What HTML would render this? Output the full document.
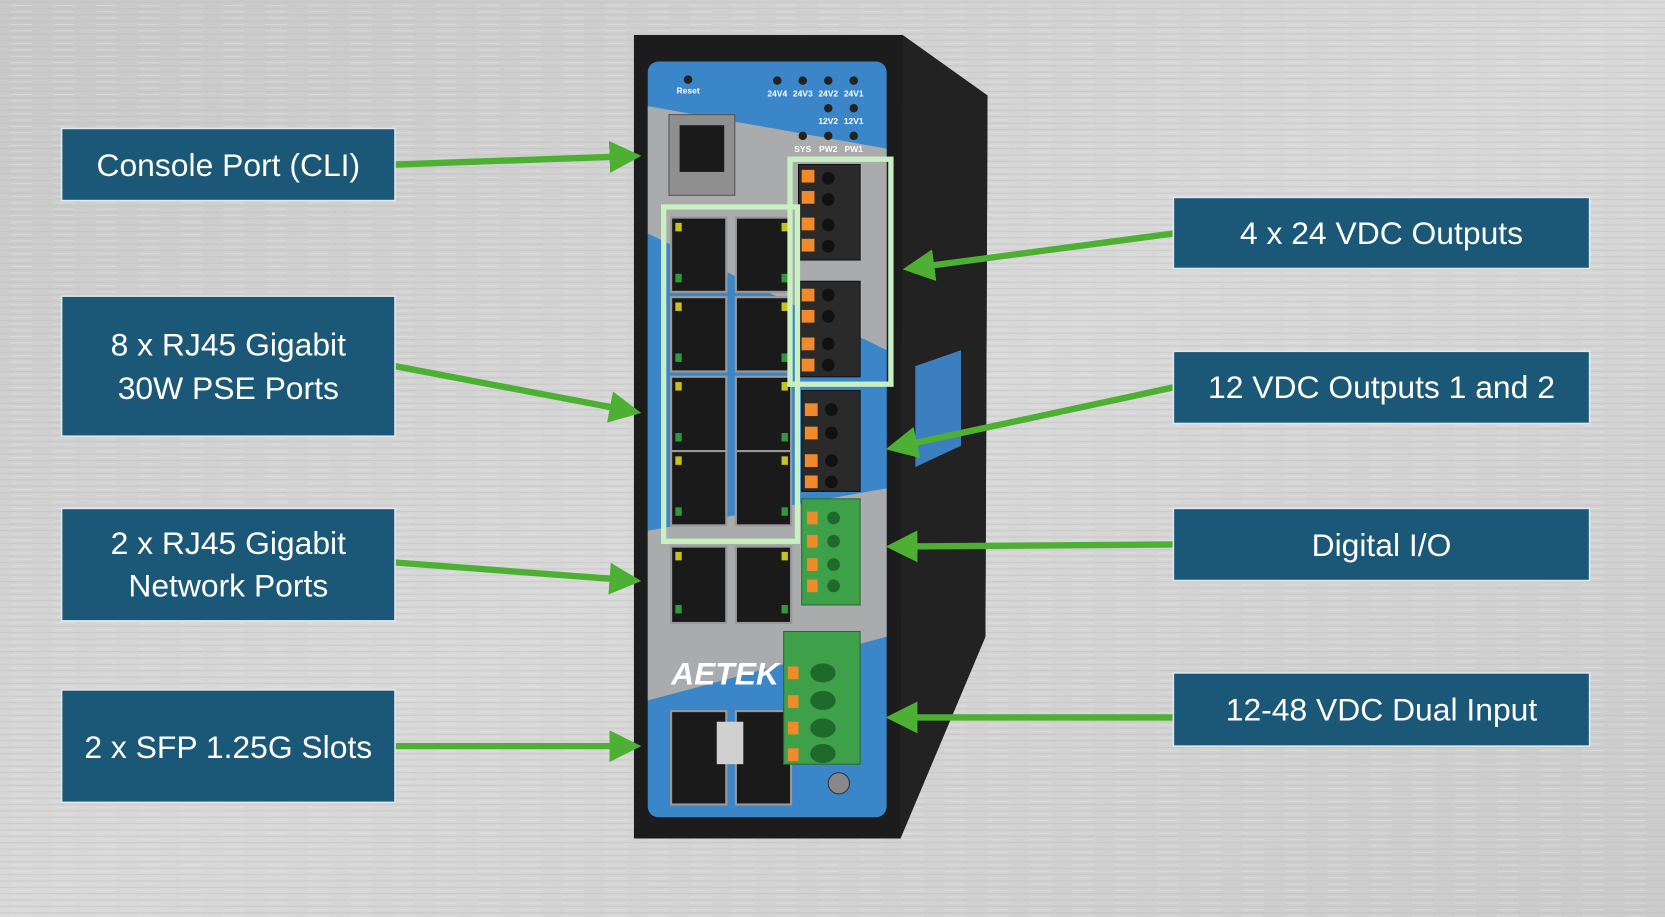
<!DOCTYPE html>
<html><head><meta charset="utf-8"><style>
html,body{margin:0;padding:0;width:1665px;height:917px;overflow:hidden;background:#cfcfcf}
svg{display:block}
text{font-family:"Liberation Sans",sans-serif;fill:#fff}
</style></head><body>
<svg width="1665" height="917" viewBox="0 0 1568 864" preserveAspectRatio="none">
<defs>
<linearGradient id="bg" x1="0" y1="0" x2="1" y2="1">
<stop offset="0" stop-color="#c8c8c8"/><stop offset="0.5" stop-color="#d9d9d9"/><stop offset="1" stop-color="#cbcbcb"/></linearGradient>
<pattern id="brush" width="40" height="6" patternUnits="userSpaceOnUse">
<line x1="0" y1="2" x2="40" y2="2" stroke="#bdbdbd" stroke-width="0.8" opacity="0.6"/>
<line x1="10" y1="5" x2="30" y2="5" stroke="#e6e6e6" stroke-width="0.8" opacity="0.6"/></pattern>
<marker id="ah" markerWidth="5" markerHeight="5" refX="4" refY="2.5" orient="auto" markerUnits="strokeWidth"><path d="M0,0 L5,2.5 L0,5 Z" fill="#4db032"/></marker>
</defs>
<rect width="1568" height="864" fill="url(#bg)"/>
<rect width="1568" height="864" fill="url(#brush)"/>
<!-- device body -->
<polygon points="597,33 850,33 930,90 928,600 848,790 597,790" fill="#1c1c1c"/>
<polygon points="850,33 930,90 928,600 848,790" fill="#222"/>
<polygon points="862,345 905,330 905,420 862,440" fill="#3c7fc0"/>
<!-- front panel -->
<rect x="610" y="58" width="225" height="712" rx="10" fill="#3b86c9"/>
<polygon points="610,100 835,140 835,330 610,220" fill="#a9abad"/>
<polygon points="610,500 835,460 835,600 610,660" fill="#a9abad"/>
<polygon points="610,220 835,330 835,460 610,500" fill="#3b86c9"/>
<rect x="630" y="108" width="62" height="76" fill="#8f8f8f" stroke="#555"/>
<rect x="640" y="118" width="42" height="44" fill="#1a1a1a"/>
<!-- RJ45 grid -->
<g fill="#1a1a1a" stroke="#999" stroke-width="2">
<rect x="632" y="205" width="52" height="70"/><rect x="693" y="205" width="52" height="70"/>
<rect x="632" y="280" width="52" height="70"/><rect x="693" y="280" width="52" height="70"/>
<rect x="632" y="355" width="52" height="70"/><rect x="693" y="355" width="52" height="70"/>
<rect x="632" y="425" width="52" height="70"/><rect x="693" y="425" width="52" height="70"/>
<rect x="632" y="515" width="52" height="72"/><rect x="693" y="515" width="52" height="72"/>
<rect x="632" y="670" width="52" height="88"/><rect x="693" y="670" width="52" height="88"/>
</g>
<g fill="#c8c020"><rect x="636" y="210" width="6" height="8"/><rect x="736" y="210" width="6" height="8"/><rect x="636" y="285" width="6" height="8"/><rect x="736" y="285" width="6" height="8"/><rect x="636" y="360" width="6" height="8"/><rect x="736" y="360" width="6" height="8"/><rect x="636" y="430" width="6" height="8"/><rect x="736" y="430" width="6" height="8"/><rect x="636" y="520" width="6" height="8"/><rect x="736" y="520" width="6" height="8"/></g>
<g fill="#2f9a3a"><rect x="636" y="258" width="6" height="8"/><rect x="736" y="258" width="6" height="8"/><rect x="636" y="333" width="6" height="8"/><rect x="736" y="333" width="6" height="8"/><rect x="636" y="408" width="6" height="8"/><rect x="736" y="408" width="6" height="8"/><rect x="636" y="478" width="6" height="8"/><rect x="736" y="478" width="6" height="8"/><rect x="636" y="570" width="6" height="8"/><rect x="736" y="570" width="6" height="8"/></g>
<rect x="675" y="680" width="25" height="40" fill="#d0d0d0"/>
<text x="632" y="645" font-size="30" font-weight="bold" font-style="italic" fill="#dcdcdc">AETEK</text>
<!-- terminals -->
<g fill="#2a2a2a" stroke="#111">
<rect x="752" y="155" width="58" height="90"/><rect x="752" y="265" width="58" height="90"/>
<rect x="755" y="368" width="55" height="95"/>
</g>
<g fill="#111"><circle cx="780" cy="168" r="6"/><circle cx="780" cy="188" r="6"/><circle cx="780" cy="212" r="6"/><circle cx="780" cy="232" r="6"/><circle cx="780" cy="278" r="6"/><circle cx="780" cy="298" r="6"/><circle cx="780" cy="324" r="6"/><circle cx="780" cy="344" r="6"/><circle cx="783" cy="386" r="6"/><circle cx="783" cy="408" r="6"/><circle cx="783" cy="434" r="6"/><circle cx="783" cy="454" r="6"/></g>
<g fill="#f08a2a">
<rect x="755" y="160" width="12" height="12"/><rect x="755" y="180" width="12" height="12"/><rect x="755" y="205" width="12" height="12"/><rect x="755" y="225" width="12" height="12"/>
<rect x="755" y="272" width="12" height="12"/><rect x="755" y="292" width="12" height="12"/><rect x="755" y="318" width="12" height="12"/><rect x="755" y="338" width="12" height="12"/>
<rect x="758" y="380" width="12" height="12"/><rect x="758" y="402" width="12" height="12"/><rect x="758" y="428" width="12" height="12"/><rect x="758" y="448" width="12" height="12"/>
</g>
<rect x="755" y="470" width="55" height="100" fill="#3fa04a" stroke="#2a6a30"/>
<g fill="#1f6a2a"><circle cx="785" cy="488" r="6"/><circle cx="785" cy="510" r="6"/><circle cx="785" cy="532" r="6"/><circle cx="785" cy="552" r="6"/></g>
<g fill="#f08a2a"><rect x="760" y="482" width="10" height="12"/><rect x="760" y="504" width="10" height="12"/><rect x="760" y="526" width="10" height="12"/><rect x="760" y="546" width="10" height="12"/></g>
<rect x="738" y="595" width="72" height="125" fill="#3fa04a" stroke="#2a6a30"/>
<g fill="#1f6a2a"><ellipse cx="775" cy="634" rx="12" ry="9"/><ellipse cx="775" cy="660" rx="12" ry="9"/><ellipse cx="775" cy="686" rx="12" ry="9"/><ellipse cx="775" cy="710" rx="12" ry="9"/></g>
<g fill="#f08a2a"><rect x="742" y="628" width="10" height="12"/><rect x="742" y="655" width="10" height="12"/><rect x="742" y="680" width="10" height="12"/><rect x="742" y="705" width="10" height="12"/></g>
<circle cx="790" cy="738" r="10" fill="#888" stroke="#333"/>
<g fill="#222"><circle cx="732" cy="76" r="4"/><circle cx="756" cy="76" r="4"/><circle cx="780" cy="76" r="4"/><circle cx="804" cy="76" r="4"/><circle cx="780" cy="102" r="4"/><circle cx="804" cy="102" r="4"/><circle cx="756" cy="128" r="4"/><circle cx="780" cy="128" r="4"/><circle cx="804" cy="128" r="4"/><circle cx="648" cy="75" r="4"/></g>
<g font-size="8" font-weight="bold" fill="#fff" text-anchor="middle">
<text x="648" y="88">Reset</text><text x="732" y="91">24V4</text><text x="756" y="91">24V3</text><text x="780" y="91">24V2</text><text x="804" y="91">24V1</text>
<text x="780" y="117">12V2</text><text x="804" y="117">12V1</text><text x="756" y="143">SYS</text><text x="780" y="143">PW2</text><text x="804" y="143">PW1</text></g>
<!-- highlights -->
<rect x="625" y="195" width="126" height="315" fill="none" stroke="#c8f0c0" stroke-width="5"/>
<rect x="744" y="150" width="95" height="212" fill="none" stroke="#c8f0c0" stroke-width="5"/>
<!-- arrows -->
<g stroke="#4db032" stroke-width="6" fill="none" marker-end="url(#ah)">
<line x1="372" y1="155" x2="598" y2="147"/>
<line x1="372" y1="345" x2="598" y2="388"/>
<line x1="372" y1="530" x2="598" y2="547"/>
<line x1="372" y1="703" x2="598" y2="703"/>
<line x1="1105" y1="220" x2="856" y2="253"/>
<line x1="1105" y1="365" x2="840" y2="422"/>
<line x1="1105" y1="513" x2="840" y2="515"/>
<line x1="1105" y1="676" x2="840" y2="676"/>
</g>
<!-- labels -->
<g fill="#1b5878" stroke="#dfe8ee" stroke-width="1.5">
<rect x="58" y="121" width="314" height="68"/><rect x="58" y="279" width="314" height="132"/>
<rect x="58" y="479" width="314" height="106"/><rect x="58" y="650" width="314" height="106"/>
<rect x="1105" y="186" width="392" height="67"/><rect x="1105" y="331" width="392" height="68"/>
<rect x="1105" y="479" width="392" height="68"/><rect x="1105" y="634" width="392" height="69"/>
</g>
<g font-size="30" text-anchor="middle">
<text x="215" y="166">Console Port (CLI)</text>
<text x="215" y="335">8 x RJ45 Gigabit</text><text x="215" y="376">30W PSE Ports</text>
<text x="215" y="522">2 x RJ45 Gigabit</text><text x="215" y="562">Network Ports</text>
<text x="215" y="714">2 x SFP 1.25G Slots</text>
<text x="1301" y="230">4 x 24 VDC Outputs</text>
<text x="1301" y="375">12 VDC Outputs 1 and 2</text>
<text x="1301" y="524">Digital I/O</text>
<text x="1301" y="679">12-48 VDC Dual Input</text>
</g>
</svg>
</body></html>
